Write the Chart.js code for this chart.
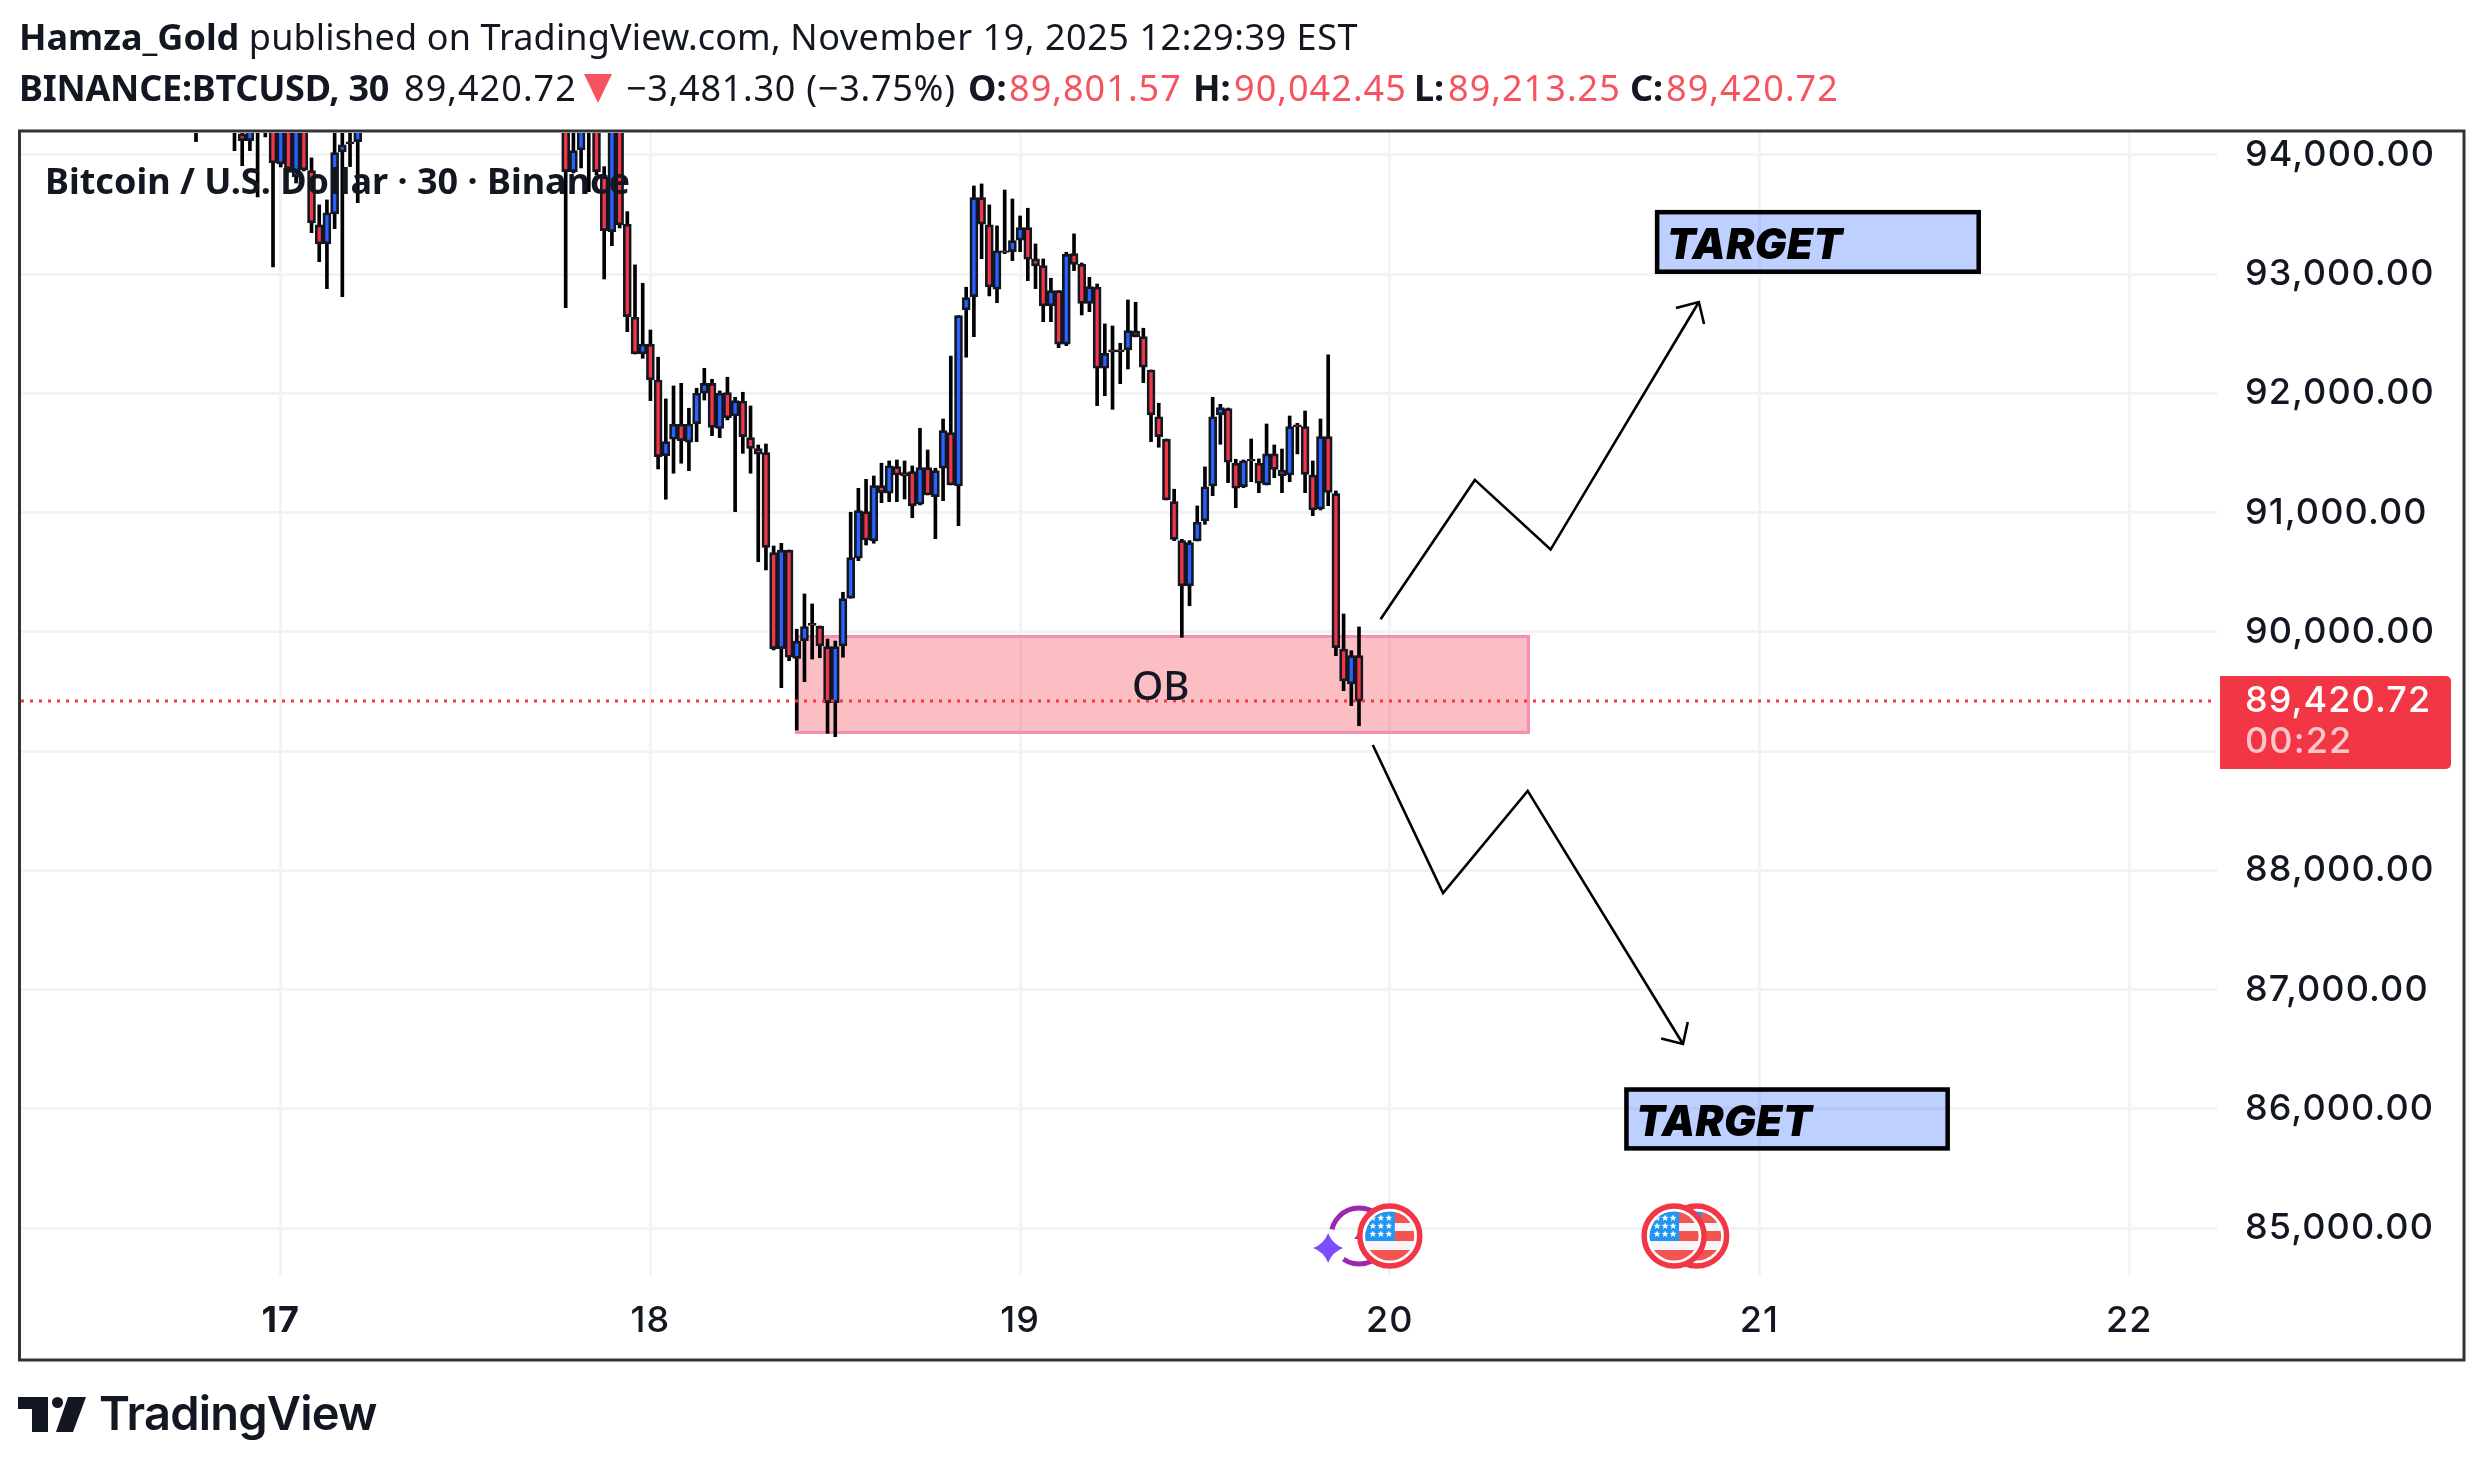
<!DOCTYPE html>
<html>
<head>
<meta charset="utf-8">
<title>BTCUSD 30</title>
<script src="https://cdn.jsdelivr.net/npm/chart.js@4"></script>
<style>
html, body { margin: 0; padding: 0; background: #fff; }
body { width: 2484px; height: 1470px; position: relative; overflow: hidden; color: #131722; }
canvas { position: absolute; left: 0; top: 0; }
.head { position: absolute; font-family: "Noto Sans", sans-serif; font-size: 36px; line-height: 48px; white-space: nowrap; }
.head b { font-weight: 700; }
.num { letter-spacing: 1.05px; }
.red { color: #f7525f; }
.abs { position: absolute; white-space: nowrap; }
#logoText { left: 99px; top: 1385px; font-family: Inter, sans-serif; font-weight: 600; font-size: 47px; line-height: 56px; letter-spacing: -0.8px; }
#logoMark { position: absolute; left: 18px; top: 1397px; }
#downMark { position: absolute; left: 584px; top: 74px; }
</style>
</head>
<body>
<canvas id="myChart" width="2484" height="1470"></canvas>
<div class="head" style="top:13px;left:19px;letter-spacing:0.15px"><b style="letter-spacing:0">Hamza_Gold</b> published on TradingView.com, <span style="letter-spacing:0.55px">November 19, 2025 12:29:39 EST</span></div>
<div class="head" style="top:64px;left:19px;letter-spacing:-0.25px"><b>BINANCE:BTCUSD, 30</b></div>
<div class="head num" style="top:64px;left:404px">89,420.72</div>
<svg id="downMark" width="28" height="29" viewBox="0 0 28 29"><path fill="#f7525f" d="M0 0H28L14 29Z"/></svg>
<div class="head" style="top:64px;left:626px;letter-spacing:0.75px">−3,481.30 (−3.75%)</div>
<div class="head" style="top:64px;left:968px"><b>O:</b></div>
<div class="head num red" style="top:64px;left:1009px">89,801.57</div>
<div class="head" style="top:64px;left:1193px"><b>H:</b></div>
<div class="head num red" style="top:64px;left:1234px">90,042.45</div>
<div class="head" style="top:64px;left:1414px"><b>L:</b></div>
<div class="head num red" style="top:64px;left:1448px">89,213.25</div>
<div class="head" style="top:64px;left:1630px"><b>C:</b></div>
<div class="head num red" style="top:64px;left:1666px">89,420.72</div>
<svg id="logoMark" width="68" height="35" viewBox="0 0 68 35"><path fill="#131722" d="M0 0H30V35H14V12H0Z"/><circle fill="#131722" cx="39.5" cy="5.5" r="5.5"/><path fill="#131722" d="M50 0H68L55 35H38Z"/></svg>
<div id="logoText" class="abs">TradingView</div>
<script>
// 蜡烛序号:相对 11月17日 00:00 的 30 分钟格
var candleSlots = [-11,-6,-5,-4,-3,-2,-1,0,1,2,3,4,5,6,7,8,9,10,
    37,38,39,40,41,42,43,44,45,46,47,48,49,50,51,52,53,54,55,56,
    57,58,59,60,61,62,63,64,65,66,67,68,69,70,71,72,73,74,75,76,
    77,78,79,80,81,82,83,84,85,86,87,88,89,90,91,92,93,94,95,96,
    97,98,99,100,101,102,103,104,105,106,107,108,109,110,111,112,113,114,115,116,
    117,118,119,120,121,122,123,124,125,126,127,128,129,130,131,132,133,134,135,136,
    137,138,139,140];
var openPrices = [94350,94350,94176,94120,94350,94350,94350,93925,94350,93818,94350,93868,93413,93254,93505,94025,94092,94112,
    94350,93860,94042,94350,94350,93818,93357,94350,93419,92639,92331,92413,92113,91476,91616,91742,91591,91744,92002,92085,
    91706,92007,91811,91935,91629,91537,91504,90665,89860,90687,89779,89927,90073,90050,89877,89407,89883,90283,90618,91009,
    90763,91227,91163,91386,91336,91344,91071,91378,91135,91373,91671,91224,92700,92812,93642,93413,92874,93197,93189,93285,
    93390,93128,93072,92734,92862,92413,93172,93083,92756,92891,92211,92365,92365,92365,92522,92476,92197,91805,91618,91093,
    90766,90386,90763,90931,91224,91820,91873,91415,91218,91448,91415,91233,91493,91358,91316,91736,91722,91316,91031,91638,
    91160,89857,89564,89801.57];
var highPrices = [94400,94400,94400,94400,94400,94400,94400,94400,94400,94400,94400,93975,93581,93623,94400,94400,94400,94400,
    94400,94400,94400,94400,94400,93902,94400,94400,93525,93078,92924,92532,92304,91954,92063,92085,91876,92044,92211,92119,
    92021,92136,91968,92010,91895,91568,91576,90721,90744,90687,90023,90319,90235,90050,89941,89924,90333,91004,91205,91280,
    91308,91415,91434,91442,91434,91392,91708,91526,91373,91786,92314,92652,92891,93740,93757,93581,93405,93706,93631,93488,
    93553,93254,93128,92966,92862,93184,93338,93094,92974,92918,92583,92566,92421,92784,92765,92547,92197,91918,91618,91197,
    90777,90766,91057,91384,91968,91909,91878,91448,91442,91618,91451,91744,91568,91534,91811,91750,91853,91434,91786,92323,
    91182,90151,89843,90042.45];
var lowPrices = [94112,94036,93910,94036,93648,94151,93061,93899,93857,93765,93866,93348,93105,92879,93382,92812,93902,93600,
    92719,93849,93891,93692,93832,92960,93239,93388,92518,92331,92295,91940,91367,91113,91331,91415,91353,91596,91945,91646,
    91629,91778,91009,91498,91331,90589,90520,89849,89533,89759,89178,89583,89773,89784,89150,89122,89788,90283,90598,90729,
    90744,91084,91093,91093,91115,90958,91065,91149,90782,91101,91233,90891,92304,92476,93130,92818,92761,93172,93114,93189,
    92946,92879,92602,92602,92384,92401,93030,92658,92686,91898,91981,91867,92082,92205,92474,92091,91596,91549,91107,90766,
    89955,90220,90763,90903,91143,91574,91252,91042,91210,91260,91168,91233,91294,91168,91260,91493,91168,90975,91023,91059,
    89801,89508,89382,89213.25];
var closePrices = [94300,94250,94120,94350,94250,94250,93933,94350,93883,94350,93874,93430,93254,93514,94019,94084,94109,94350,
    93860,94036,94350,94250,93860,93365,94350,93413,92644,92331,92413,92113,91470,91596,91742,91604,91744,92002,92085,91715,
    92002,91795,91940,91638,91540,91490,90710,89860,90687,89788,89924,90046,90054,89883,89407,89877,90279,90623,91017,90771,
    91227,91168,91394,91316,91308,91057,91378,91149,91353,91688,91233,92652,92803,93642,93419,92893,93197,93182,93281,93390,
    93125,93069,92734,92862,92413,93167,93083,92756,92896,92211,92337,92348,92348,92527,92476,92220,91820,91638,91107,90777,
    90386,90749,90920,91218,91805,91881,91423,91205,91436,91434,91247,91493,91364,91308,91722,91719,91322,91023,91638,91171,
    89868,89589,89801,89420.72];

var priceGrid = [85000,86000,87000,88000,89000,90000,91000,92000,93000,94000];
var priceTicks = [85000,86000,87000,88000,90000,91000,92000,93000,94000];
var dayTicks = [17,18,19,20,21,22];
var lastPrice = 89420.72;
var lastPriceLabels = ['89,420.72','00:22'];

// 图上手绘:[日, 价]
var upPathDays = [19.975,20.230,20.435,20.836];
var upPathPrices = [90106,91275,90691,92767];
var upHeadDays = [20.774,20.836,20.850];
var upHeadPrices = [92717,92767,92583];
var downPathDays = [19.954,20.144,20.373,20.793];
var downPathPrices = [89052,87811,88667,86545];
var downHeadDays = [20.734,20.793,20.806];
var downHeadPrices = [86592,86545,86730];
var obBox = [18.391,20.379,89975,89145];
var upTargetBox = [20.717,21.599,93539,93002];
var downTargetBox = [20.634,21.515,86182,85651];
var flagDays = [20.0,20.83,20.769];
var moonDay = 19.917;
var eventPrice = 84935;

function pairs(xs, ys) {
    var out = [];
    for (var i = 0; i < xs.length; i++) {
        out.push({x: xs[i], y: ys[i]});
    }
    return out;
}

var wickData = [];
var bodyData = [];
var bodyColors = [];
for (var i = 0; i < candleSlots.length; i++) {
    var day = 17 + candleSlots[i] / 48;
    wickData.push({x: day, y: [lowPrices[i], highPrices[i]]});
    bodyData.push({x: day, y: [openPrices[i], closePrices[i]]});
    bodyColors.push(closePrices[i] >= openPrices[i] ? '#2962ff' : '#f23645');
}

function boxRect(chart, box) {
    var xs = chart.scales.x, ys = chart.scales.y;
    return {
        l: xs.getPixelForValue(box[0]), r: xs.getPixelForValue(box[1]),
        t: ys.getPixelForValue(box[2]), b: ys.getPixelForValue(box[3])
    };
}

function drawStar(ctx, cx, cy, r) {
    ctx.beginPath();
    for (var i = 0; i < 10; i++) {
        var a = -Math.PI / 2 + i * Math.PI / 5;
        var rr = i % 2 ? r * 0.45 : r;
        ctx.lineTo(cx + rr * Math.cos(a), cy + rr * Math.sin(a));
    }
    ctx.closePath();
    ctx.fill();
}

function drawFlag(ctx, cx, cy) {
    ctx.save();
    ctx.beginPath();
    ctx.arc(cx, cy, 30, 0, Math.PI * 2);
    ctx.fillStyle = '#fff';
    ctx.fill();
    ctx.lineWidth = 5.5;
    ctx.strokeStyle = '#f23645';
    ctx.stroke();
    ctx.beginPath();
    ctx.arc(cx, cy, 24.5, 0, Math.PI * 2);
    ctx.clip();
    ctx.fillStyle = '#f5f5fa';
    ctx.fillRect(cx - 25, cy - 25, 50, 50);
    ctx.fillStyle = '#f25550';
    ctx.fillRect(cx - 25, cy - 24, 50, 11);
    ctx.fillRect(cx - 25, cy - 5, 50, 10);
    ctx.fillRect(cx - 25, cy + 14, 50, 11);
    ctx.fillStyle = '#2196f3';
    ctx.fillRect(cx - 25, cy - 25, 30, 30);
    ctx.fillStyle = '#fff';
    for (var r = 0; r < 3; r++) {
        for (var c = 0; c < 3; c++) {
            drawStar(ctx, cx - 17 + c * 8, cy - 18 + r * 8, 3.6);
        }
    }
    ctx.restore();
}

function drawMoon(ctx, cx, cy) {
    ctx.save();
    ctx.lineWidth = 5;
    ctx.strokeStyle = '#9c27b0';
    ctx.beginPath();
    ctx.arc(cx, cy, 28, 0, Math.PI * 2);
    ctx.stroke();
    ctx.fillStyle = '#9c27b0';
    ctx.beginPath();
    ctx.moveTo(cx + 8, cy - 14);
    ctx.lineTo(cx - 5, cy + 3);
    ctx.lineTo(cx + 10, cy + 3);
    ctx.closePath();
    ctx.fill();
    // 四角星
    var sx = cx - 31, sy = cy + 12;
    ctx.fillStyle = '#fff';
    ctx.beginPath();
    ctx.arc(sx, sy, 19, 0, Math.PI * 2);
    ctx.fill();
    ctx.fillStyle = '#7c4dff';
    ctx.beginPath();
    ctx.moveTo(sx, sy - 15);
    ctx.quadraticCurveTo(sx + 4, sy - 4, sx + 15, sy);
    ctx.quadraticCurveTo(sx + 4, sy + 4, sx, sy + 15);
    ctx.quadraticCurveTo(sx - 4, sy + 4, sx - 15, sy);
    ctx.quadraticCurveTo(sx - 4, sy - 4, sx, sy - 15);
    ctx.fill();
    ctx.restore();
}

var drawingsPlugin = {
    id: 'drawings',
    beforeDraw: function (chart) {
        chart.ctx.letterSpacing = '1.1px';
    },
    beforeDatasetsDraw: function (chart) {
        var ctx = chart.ctx;
        var b = boxRect(chart, obBox);
        ctx.save();
        ctx.fillStyle = 'rgba(242,54,69,0.32)';
        ctx.fillRect(b.l, b.t, b.r - b.l, b.b - b.t);
        ctx.strokeStyle = '#f48fb1';
        ctx.lineWidth = 3;
        ctx.strokeRect(b.l + 1.5, b.t + 1.5, b.r - b.l - 3, b.b - b.t - 3);
        ctx.restore();
    },
    afterDraw: function (chart) {
        var ctx = chart.ctx;
        var xs = chart.scales.x, ys = chart.scales.y;
        ctx.save();
        ctx.letterSpacing = '0px';

        // 合约名
        ctx.fillStyle = '#131722';
        ctx.font = '700 36px "Noto Sans"';
        ctx.textBaseline = 'alphabetic';
        ctx.textAlign = 'left';
        ctx.fillText('Bitcoin / U.S. Dollar · 30 · Binance', 45, 194);

        // OB
        ctx.font = '500 40px "Noto Sans"';
        ctx.fillText('OB', 1132, 700);

        // TARGET
        var boxes = [upTargetBox, downTargetBox];
        for (var i = 0; i < boxes.length; i++) {
            var t = boxRect(chart, boxes[i]);
            ctx.fillStyle = 'rgba(41,98,255,0.3)';
            ctx.fillRect(t.l, t.t, t.r - t.l, t.b - t.t);
            ctx.strokeStyle = '#000';
            ctx.lineWidth = 4.5;
            ctx.strokeRect(t.l + 2.25, t.t + 2.25, t.r - t.l - 4.5, t.b - t.t - 4.5);
            ctx.fillStyle = '#000';
            ctx.font = 'italic 900 42px Inter';
            ctx.letterSpacing = '0.5px';
            ctx.fillText('TARGET', t.l + 12, t.b - 14.5);
            ctx.letterSpacing = '0px';
        }

        // 事件图标
        var ey = ys.getPixelForValue(eventPrice);
        drawMoon(ctx, xs.getPixelForValue(moonDay), ey);
        for (var j = 0; j < flagDays.length; j++) {
            drawFlag(ctx, xs.getPixelForValue(flagDays[j]), ey);
        }

        // 现价标签
        var py = ys.getPixelForValue(lastPrice);
        ctx.fillStyle = '#f23645';
        ctx.beginPath();
        ctx.roundRect(2220, py - 25, 231, 93, [0, 5, 5, 0]);
        ctx.fill();
        ctx.letterSpacing = '1.1px';
        ctx.font = '500 36px Inter';
        ctx.textBaseline = 'middle';
        ctx.fillStyle = '#fff';
        ctx.fillText(lastPriceLabels[0], 2245, py + 0.5);
        ctx.fillStyle = 'rgba(255,255,255,0.72)';
        ctx.fillText(lastPriceLabels[1], 2245, py + 41.5);
        ctx.letterSpacing = '0px';

        // 外框
        ctx.strokeStyle = '#333';
        ctx.lineWidth = 3;
        ctx.strokeRect(19.5, 131, 2444.5, 1229);
        ctx.restore();
    }
};

var ctx = document.getElementById('myChart').getContext('2d');
var myChart = new Chart(ctx, {
    type: 'bar',
    data: {
        datasets: [
            {type: 'line', data: [{x: 16.2975, y: lastPrice}, {x: 22.2375, y: lastPrice}], borderColor: '#f23645', borderWidth: 3, borderDash: [3, 6], pointRadius: 0, order: 0},
            {type: 'line', data: pairs(upPathDays, upPathPrices), borderColor: '#000', borderWidth: 2.6, pointRadius: 0, tension: 0, order: 0},
            {type: 'line', data: pairs(upHeadDays, upHeadPrices), borderColor: '#000', borderWidth: 2.6, pointRadius: 0, tension: 0, order: 0},
            {type: 'line', data: pairs(downPathDays, downPathPrices), borderColor: '#000', borderWidth: 2.6, pointRadius: 0, tension: 0, order: 0},
            {type: 'line', data: pairs(downHeadDays, downHeadPrices), borderColor: '#000', borderWidth: 2.6, pointRadius: 0, tension: 0, order: 0},
            {data: bodyData, backgroundColor: bodyColors, borderColor: '#131722', borderWidth: 2.7, borderSkipped: false, barThickness: 8, grouped: false, order: 1},
            {data: wickData, backgroundColor: '#000', barThickness: 3, grouped: false, order: 2}
        ]
    },
    options: {
        responsive: false,
        devicePixelRatio: 1,
        animation: false,
        events: [],
        layout: {padding: {left: 21, top: 133, right: 20, bottom: 110}},
        plugins: {legend: {display: false}, tooltip: {enabled: false}, title: {display: false}},
        scales: {
            x: {
                type: 'linear',
                offset: false,
                min: 16.2975,
                max: 22.2375,
                border: {display: false},
                grid: {offset: false, color: '#f3f3f4', lineWidth: 3, drawTicks: false},
                afterFit: function (scale) { scale.height = 85; },
                ticks: {
                    stepSize: 1,
                    includeBounds: false,
                    autoSkip: false,
                    maxRotation: 0,
                    padding: 25,
                    color: '#131722',
                    font: function (c) {
                        return {family: 'Inter', size: 36, weight: c.tick && c.tick.value === dayTicks[0] ? 700 : 500};
                    },
                    callback: function (v) { return dayTicks.indexOf(v) >= 0 ? String(v) : null; }
                }
            },
            y: {
                type: 'linear',
                position: 'right',
                min: 84608,
                max: 94184,
                border: {display: false},
                grid: {color: '#f3f3f4', lineWidth: 3, drawTicks: false},
                afterFit: function (scale) { scale.width = 247; },
                afterBuildTicks: function (scale) {
                    scale.ticks = priceGrid.map(function (v) { return {value: v}; });
                },
                ticks: {
                    autoSkip: false,
                    padding: 28,
                    color: '#131722',
                    font: {family: 'Inter', size: 36, weight: 500},
                    // 89000 的标签被现价标签盖住,只留网格线
                    callback: function (v) {
                        return priceTicks.indexOf(v) >= 0 ? v.toLocaleString('en-US') + '.00' : '';
                    }
                }
            }
        }
    },
    plugins: [drawingsPlugin]
});
</script>
</body>
</html>
